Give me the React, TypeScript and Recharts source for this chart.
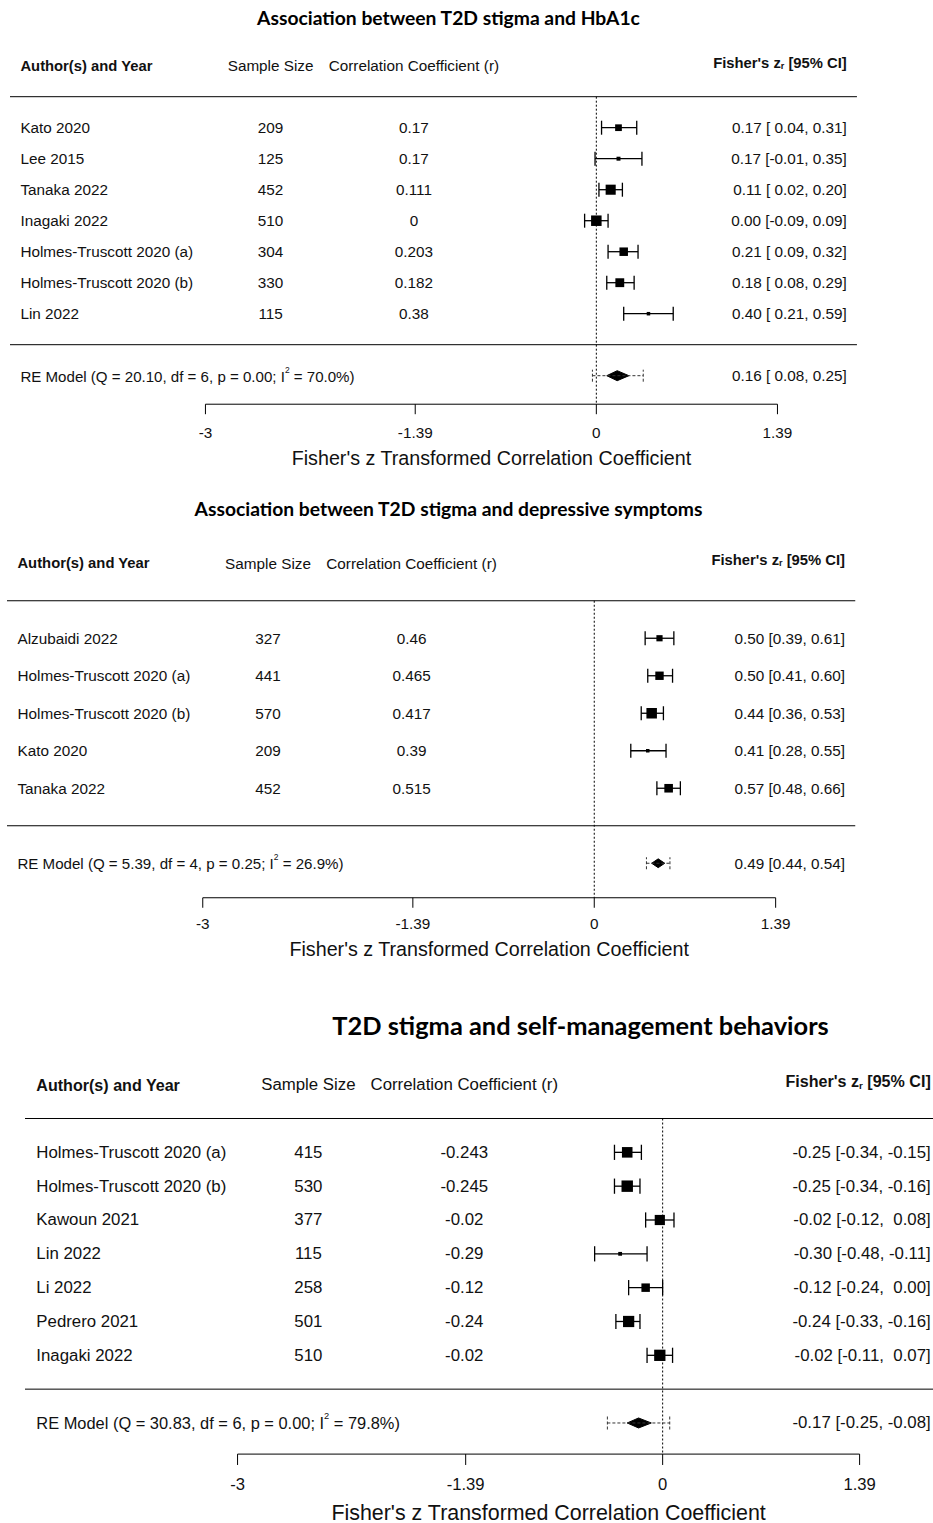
import React from "react";
import { ComposedChart, Scatter, Area, XAxis, YAxis, ErrorBar, ReferenceLine } from "recharts";

const FONT = "'Liberation Sans', Arial, sans-serif";
const TITLE_FONT = "Lato, 'Open Sans', sans-serif";
const INK = "#111";

const XLIM: [number, number] = [-4.5, 2];
const AXIS_TICKS = [-3, -1.39, 0, 1.39];
const AXIS_ROW = -1.92;
// text columns, in the x units of the plot
const COL_AUTHOR = -4.42;
const COL_N = -2.5;
const COL_R = -1.4;

// --- HbA1c
const hba1cAuthors = [
  "Kato 2020",
  "Lee 2015",
  "Tanaka 2022",
  "Inagaki 2022",
  "Holmes-Truscott 2020 (a)",
  "Holmes-Truscott 2020 (b)",
  "Lin 2022",
];
const hba1cN = [209, 125, 452, 510, 304, 330, 115];
const hba1cR = ["0.17", "0.17", "0.111", "0", "0.203", "0.182", "0.38"];
const hba1cZ = [0.17, 0.17, 0.11, 0.0, 0.21, 0.18, 0.4];
const hba1cLo = [0.04, -0.01, 0.02, -0.09, 0.09, 0.08, 0.21];
const hba1cHi = [0.31, 0.35, 0.2, 0.09, 0.32, 0.29, 0.59];
const hba1cModel = { q: "20.10", df: 6, p: "0.00", i2: 70.0, est: 0.16, lo: 0.08, hi: 0.25, piLo: -0.03, piHi: 0.36 };

// --- depressive symptoms
const depAuthors = [
  "Alzubaidi 2022",
  "Holmes-Truscott 2020 (a)",
  "Holmes-Truscott 2020 (b)",
  "Kato 2020",
  "Tanaka 2022",
];
const depN = [327, 441, 570, 209, 452];
const depR = ["0.46", "0.465", "0.417", "0.39", "0.515"];
const depZ = [0.5, 0.5, 0.44, 0.41, 0.57];
const depLo = [0.39, 0.41, 0.36, 0.28, 0.48];
const depHi = [0.61, 0.6, 0.53, 0.55, 0.66];
const depModel = { q: "5.39", df: 4, p: "0.25", i2: 26.9, est: 0.49, lo: 0.44, hi: 0.54, piLo: 0.4, piHi: 0.58 };

// --- self-management
const smAuthors = [
  "Holmes-Truscott 2020 (a)",
  "Holmes-Truscott 2020 (b)",
  "Kawoun 2021",
  "Lin 2022",
  "Li 2022",
  "Pedrero 2021",
  "Inagaki 2022",
];
const smN = [415, 530, 377, 115, 258, 501, 510];
const smR = ["-0.243", "-0.245", "-0.02", "-0.29", "-0.12", "-0.24", "-0.02"];
const smZ = [-0.25, -0.25, -0.02, -0.3, -0.12, -0.24, -0.02];
const smLo = [-0.34, -0.34, -0.12, -0.48, -0.24, -0.33, -0.11];
const smHi = [-0.15, -0.16, 0.08, -0.11, 0.0, -0.16, 0.07];
const smModel = { q: "30.83", df: 6, p: "0.00", i2: 79.8, est: -0.17, lo: -0.25, hi: -0.08, piLo: -0.39, piHi: 0.05 };

type Geo = {
  left: number;
  ppu: number;
  row0: number;
  rowH: number;
  s: number;
  fs: number;
  diamondPx: number;
  ciCol: number;
  labelShift: number;
};
const geo1: Geo = { left: 10, ppu: 130.3, row0: 345, rowH: 31, s: 1, fs: 1, diamondPx: 5, ciCol: 1.922, labelShift: 0 };
const geo2: Geo = { left: 7.25, ppu: 130.5, row0: 825.5, rowH: 37.5, s: 1, fs: 1, diamondPx: 4.4, ciCol: 1.922, labelShift: -2.5 };
const geo3: Geo = { left: 24.9, ppu: 141.7, row0: 1388.8, rowH: 33.83, s: 1.0875, fs: 1.1, diamondPx: 5, ciCol: 1.892, labelShift: 0 };

const sum = (a: number[]) => a.reduce((t, v) => t + v, 0);

// metafor-style marker sizes from random-effects weights (vi = 1/(n-3), tau2 from I^2)
function markerScale(n: number[], i2: number) {
  const w = n.map((v) => v - 3);
  const sw = sum(w);
  const sw2 = sum(w.map((x) => x * x));
  const s2 = ((n.length - 1) * sw) / (sw * sw - sw2);
  const tau2 = (i2 / 100 / (1 - i2 / 100)) * s2;
  const wr = n.map((v) => 1 / (1 / (v - 3) + tau2));
  const mn = Math.min(...wr);
  const mx = Math.max(...wr);
  return wr.map((x) => (x - mn) / (mx - mn) + 0.5);
}

function fixedCol(vals: number[]) {
  const s = vals.map((v) => v.toFixed(2));
  const w = Math.max(...s.map((t) => t.length));
  return s.map((t) => t.padStart(w, " "));
}

const LabelShape = (s: number, fs: number) => (props: any) => {
  const { cx, cy, payload } = props;
  const base = {
    x: cx,
    y: cy,
    textAnchor: payload.anchor,
    dominantBaseline: "central" as const,
    fontFamily: FONT,
    fill: INK,
    style: { whiteSpace: "pre" as const },
  };
  if (payload.kind === "head") {
    return (
      <text {...base} fontSize={14.8 * s} fontWeight="bold">
        {payload.text}
      </text>
    );
  }
  if (payload.kind === "headz") {
    return (
      <text {...base} y={cy - 3 * s} fontSize={14.8 * s} fontWeight="bold">
        <tspan>Fisher's z</tspan>
        <tspan dy={3 * s} fontSize={9 * s}>r</tspan>
        <tspan dy={-3 * s}> [95% CI]</tspan>
      </text>
    );
  }
  if (payload.kind === "re") {
    return (
      <text {...base} fontSize={15.1 * s}>
        <tspan>{payload.text}</tspan>
        <tspan dy={-6 * s} fontSize={8.5 * s}>2</tspan>
        <tspan dy={6 * s}>{payload.tail}</tspan>
      </text>
    );
  }
  return (
    <text {...base} fontSize={15.3 * fs}>
      {payload.text}
    </text>
  );
};

const SquareShape = (s: number) => (props: any) => {
  const { cx, cy, payload } = props;
  const side = payload.size * 7 * s;
  return <rect x={cx - side / 2} y={cy - side / 2} width={side} height={side} fill="#000" />;
};

const NoShape = () => <g />;

const AxisTitle = (props: any) => {
  const { viewBox, s, shift } = props;
  if (!viewBox) return null;
  const mid = (AXIS_TICKS[0] + AXIS_TICKS[AXIS_TICKS.length - 1]) / 2;
  const x = viewBox.x + ((mid - XLIM[0]) / (XLIM[1] - XLIM[0])) * viewBox.width;
  return (
    <text x={x} y={viewBox.y + 54 * s + shift} textAnchor="middle" dominantBaseline="central" fontSize={19.7 * s} fontFamily={FONT} fill={INK}>
      Fisher's z Transformed Correlation Coefficient
    </text>
  );
};

function Forest({
  authors,
  n,
  r,
  z,
  lo,
  hi,
  model,
  geo,
}: {
  authors: string[];
  n: number[];
  r: string[];
  z: number[];
  lo: number[];
  hi: number[];
  model: typeof hba1cModel;
  geo: Geo;
}) {
  const k = authors.length;
  const topRow = k + 2.7;
  const s = geo.s;
  const plotH = (topRow - AXIS_ROW) * geo.rowH;
  const axisH = 66 * s;
  const width = (XLIM[1] - XLIM[0]) * geo.ppu;
  const pageTop = geo.row0 - topRow * geo.rowH;
  const psize = markerScale(n, model.i2);

  const estS = fixedCol([...z, model.est]);
  const loS = fixedCol([...lo, model.lo]);
  const hiS = fixedCol([...hi, model.hi]);
  const ciText = (i: number) => `${estS[i]} [${loS[i]}, ${hiS[i]}]`;

  const studies = authors.map((_, i) => ({
    x: z[i],
    y: k - i,
    err: [z[i] - lo[i], hi[i] - z[i]],
    size: psize[i],
  }));

  const labels: any[] = [
    { x: COL_AUTHOR, y: k + 2, text: "Author(s) and Year", anchor: "start", kind: "head" },
    { x: COL_N, y: k + 2, text: "Sample Size", anchor: "middle", kind: "cell" },
    { x: COL_R, y: k + 2, text: "Correlation Coefficient (r)", anchor: "middle", kind: "cell" },
    { x: geo.ciCol, y: k + 2, text: "", anchor: "end", kind: "headz" },
  ];
  authors.forEach((a, i) => {
    labels.push({ x: COL_AUTHOR, y: k - i, text: a, anchor: "start", kind: "cell" });
    labels.push({ x: COL_N, y: k - i, text: String(n[i]), anchor: "middle", kind: "cell" });
    labels.push({ x: COL_R, y: k - i, text: r[i], anchor: "middle", kind: "cell" });
    labels.push({ x: geo.ciCol, y: k - i, text: ciText(i), anchor: "end", kind: "cell" });
  });
  labels.push({
    x: COL_AUTHOR,
    y: -1,
    text: `RE Model (Q = ${model.q}, df = ${model.df}, p = ${model.p}; I`,
    tail: ` = ${model.i2.toFixed(1)}%)`,
    anchor: "start",
    kind: "re",
  });
  labels.push({ x: geo.ciCol, y: -1, text: ciText(k), anchor: "end", kind: "cell" });

  const re = [{ x: model.est, y: -1, err: [model.est - model.piLo, model.piHi - model.est] }];
  const dh = geo.diamondPx / geo.rowH;
  const diamond = [
    { x: model.lo, band: [-1, -1] },
    { x: model.est, band: [-1 - dh, -1 + dh] },
    { x: model.hi, band: [-1, -1] },
  ];

  return (
    <div style={{ position: "absolute", left: geo.left, top: pageTop }}>
      <ComposedChart width={width} height={plotH + axisH} margin={{ top: 0, right: 0, bottom: 0, left: 0 }}>
        <XAxis
          type="number"
          dataKey="x"
          domain={XLIM}
          ticks={AXIS_TICKS}
          interval={0}
          tickFormatter={(v) => String(v)}
          axisLine={false}
          tickLine={{ stroke: "#000" }}
          tickSize={10 * s}
          tickMargin={12.5 * s + geo.labelShift}
          tick={{ fill: INK, fontSize: 15.3 * s, fontFamily: FONT }}
          height={axisH}
          label={<AxisTitle s={s} shift={geo.labelShift} />}
        />
        <YAxis type="number" dataKey="y" domain={[AXIS_ROW, topRow]} hide />
        <ReferenceLine y={k + 1} stroke="#000" />
        <ReferenceLine y={0} stroke="#000" />
        <ReferenceLine
          segment={[
            { x: 0, y: k + 1 },
            { x: 0, y: AXIS_ROW },
          ]}
          stroke="#000"
          strokeDasharray="2 2"
        />
        <ReferenceLine
          segment={[
            { x: AXIS_TICKS[0], y: AXIS_ROW },
            { x: AXIS_TICKS[AXIS_TICKS.length - 1], y: AXIS_ROW },
          ]}
          stroke="#000"
        />
        <Scatter data={studies} shape={SquareShape(s)} isAnimationActive={false}>
          <ErrorBar dataKey="err" direction="x" width={7 * s} stroke="#000" strokeWidth={1.3} />
        </Scatter>
        <Scatter data={re} shape={NoShape} isAnimationActive={false}>
          <ErrorBar dataKey="err" direction="x" width={6 * s} stroke="#333" strokeWidth={1} strokeDasharray="3 2" />
        </Scatter>
        <Area
          data={diamond}
          dataKey="band"
          type="linear"
          stroke="#000"
          fill="#000"
          fillOpacity={1}
          dot={false}
          activeDot={false}
          isAnimationActive={false}
        />
        <Scatter data={labels} shape={LabelShape(s, geo.fs)} isAnimationActive={false} />
      </ComposedChart>
    </div>
  );
}

function Title({ text, x, y, size }: { text: string; x: number; y: number; size: number }) {
  return (
    <div
      style={{
        position: "absolute",
        left: x,
        top: y,
        transform: "translate(-50%, -50%)",
        whiteSpace: "nowrap",
        fontFamily: TITLE_FONT,
        fontWeight: 700,
        fontSize: size,
        color: "#000",
        lineHeight: 1,
      }}
    >
      {text}
    </div>
  );
}

export default function App() {
  return (
    <div style={{ position: "absolute", left: 0, top: 0, width: 933, height: 1523, overflow: "hidden", background: "#fff" }}>
      <Title text="Association between T2D stigma and HbA1c" x={448.5} y={18} size={19.3} />
      <Forest authors={hba1cAuthors} n={hba1cN} r={hba1cR} z={hba1cZ} lo={hba1cLo} hi={hba1cHi} model={hba1cModel} geo={geo1} />
      <Title text="Association between T2D stigma and depressive symptoms" x={448.5} y={509} size={19.3} />
      <Forest authors={depAuthors} n={depN} r={depR} z={depZ} lo={depLo} hi={depHi} model={depModel} geo={geo2} />
      <Title text="T2D stigma and self-management behaviors" x={580.5} y={1026} size={25.4} />
      <Forest authors={smAuthors} n={smN} r={smR} z={smZ} lo={smLo} hi={smHi} model={smModel} geo={geo3} />
    </div>
  );
}
